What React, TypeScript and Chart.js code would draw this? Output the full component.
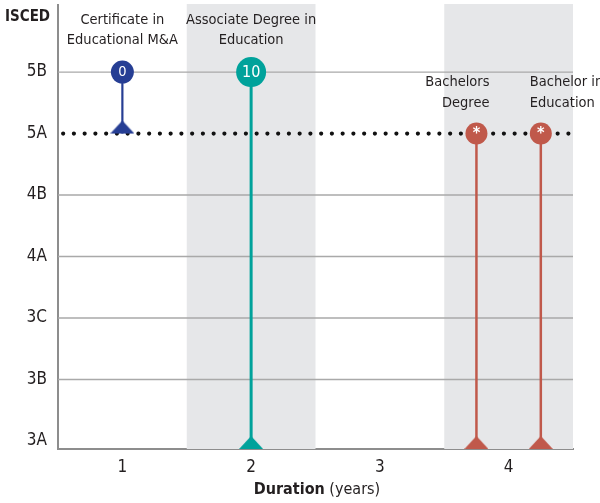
import React, { useEffect, useRef } from "react";
import { Chart, registerables } from "chart.js";

Chart.register(...registerables);

// ---- data ----
const levels = ["3A", "3B", "3C", "4A", "4B", "5A", "5B"];
const durationTicks = [1, 2, 3, 4];
const programmeLines = [
  ["Certificate in", "Educational M&A"],
  ["Associate Degree in", "Education"],
  ["Bachelors", "Degree"],
  ["Bachelor in", "Education"],
];
const durations = [1, 2, 3.75, 4.25];
const levelFrom = ["5A", "3A", "3A", "3A"];
const levelTo = ["5B", "5B", "5A", "5A"];
const markerTexts = ["0", "10", "*", "*"];
const shadedYears = [2, 4];
const dottedLevel = "5A";

// ---- styles ----
const FONT = "'DejaVu Sans Condensed', 'Liberation Sans Narrow', sans-serif";
const TEXT = "#231f20";
const colors = ["#263e94", "#00a29b", "#c0594b", "#c0594b"];
const circleRadius = [11.5, 15, 11, 11];
const stemWidth = [2.2, 3, 2.5, 2.5];
const labelAlign: CanvasTextAlign[] = ["center", "center", "right", "left"];
const labelDx = [0, 0, 13, -11];
const labelTopOffset = [-52, -52, -51, -51];
const Y_MIN = -0.13;
const Y_MAX = 7.09;

function levelValue(l: string, bottom: boolean) {
  const i = levels.indexOf(l);
  return bottom && i === 0 ? Y_MIN : i;
}

function makeTriangle(color: string) {
  const c = document.createElement("canvas");
  const w = 24;
  const h = 13;
  c.width = w;
  c.height = h * 2;
  const ctx = c.getContext("2d")!;
  ctx.fillStyle = color;
  ctx.beginPath();
  ctx.moveTo(w / 2, 0);
  ctx.lineTo(w, h);
  ctx.lineTo(0, h);
  ctx.closePath();
  ctx.fill();
  return c;
}

export default function App() {
  const ref = useRef<HTMLCanvasElement>(null);
  useEffect(() => {
    if (!ref.current) return;
    const datasets: any[] = [];
    // dotted level line
    datasets.push({
      type: "line",
      data: [
        { x: 0.54, y: levels.indexOf(dottedLevel) },
        { x: 4.47, y: levels.indexOf(dottedLevel) },
      ],
      borderColor: "#111",
      borderWidth: 4.2,
      borderDash: [0, 10.75],
      borderCapStyle: "round",
      pointRadius: 0,
      order: 5,
    });
    durations.forEach((d, i) => {
      const y0 = levelValue(levelFrom[i], true);
      const y1 = levelValue(levelTo[i], false);
      datasets.push({
        type: "line",
        data: [
          { x: d, y: y0 },
          { x: d, y: y1 },
        ],
        borderColor: colors[i],
        borderWidth: stemWidth[i],
        pointRadius: 0,
        clip: false,
        order: 3,
      });
      datasets.push({
        type: "scatter",
        data: [{ x: d, y: y0 }],
        pointStyle: makeTriangle(colors[i]),
        clip: false,
        order: 2,
      });
      datasets.push({
        type: "scatter",
        data: [{ x: d, y: y1 }],
        pointStyle: "circle",
        pointRadius: circleRadius[i],
        backgroundColor: colors[i],
        borderWidth: 0,
        clip: false,
        order: 1,
        marker: i,
      });
    });

    const overlay = {
      id: "overlay",
      beforeDatasetsDraw(chart: any) {
        const { ctx, chartArea, scales } = chart;
        ctx.save();
        ctx.fillStyle = "#e6e7e9";
        shadedYears.forEach((yr) => {
          const a = scales.x.getPixelForValue(yr - 0.5);
          const b = scales.x.getPixelForValue(yr + 0.5);
          ctx.fillRect(a, chartArea.top - 1, b - a, chartArea.bottom - chartArea.top + 1);
        });
        // gridlines
        ctx.strokeStyle = "#a9a9a9";
        ctx.lineWidth = 1.3;
        levels.forEach((l, i) => {
          if (i === 0 || l === dottedLevel) return;
          const y = scales.y.getPixelForValue(i);
          ctx.beginPath();
          ctx.moveTo(chartArea.left, y);
          ctx.lineTo(chartArea.right, y);
          ctx.stroke();
        });
        ctx.restore();
      },
      afterDatasetsDraw(chart: any) {
        const { ctx, scales } = chart;
        ctx.save();
        chart.data.datasets.forEach((ds: any, di: number) => {
          if (ds.marker === undefined) return;
          const i = ds.marker;
          const el = chart.getDatasetMeta(di).data[0];
          ctx.fillStyle = "#fff";
          ctx.textAlign = "center";
          ctx.textBaseline = "middle";
          const t = markerTexts[i];
          if (t === "*") {
            ctx.font = `bold 16px ${FONT}`;
            ctx.fillText(t, el.x, el.y + 0.5);
          } else {
            ctx.font = `${i === 1 ? 16 : 14.5}px ${FONT}`;
            ctx.fillText(t, el.x, el.y + 0.5);
          }
          // label
          ctx.fillStyle = TEXT;
          ctx.font = `14.5px ${FONT}`;
          ctx.textAlign = labelAlign[i];
          ctx.textBaseline = "middle";
          const x = scales.x.getPixelForValue(durations[i]) + labelDx[i];
          const yTop = el.y + labelTopOffset[i];
          programmeLines[i].forEach((line, k) => {
            ctx.fillText(line, x, yTop + k * 20.5);
          });
        });
        // titles
        ctx.fillStyle = TEXT;
        ctx.textBaseline = "middle";
        ctx.textAlign = "left";
        ctx.font = `bold 15px ${FONT}`;
        ctx.fillText("ISCED", 5, 17);
        const bold = "Duration";
        const rest = " (years)";
        ctx.font = `bold 16px ${FONT}`;
        const wb = ctx.measureText(bold).width;
        ctx.font = `16px ${FONT}`;
        const wr = ctx.measureText(rest).width;
        const cx = 317;
        const sx = cx - (wb + wr) / 2;
        ctx.font = `bold 16px ${FONT}`;
        ctx.fillText(bold, sx, 490);
        ctx.font = `16px ${FONT}`;
        ctx.fillText(rest, sx + wb, 490);
        ctx.restore();
      },
    };

    const chart = new Chart(ref.current, {
      type: "scatter",
      data: { datasets },
      options: {
        animation: false,
        responsive: false,
        maintainAspectRatio: false,
        devicePixelRatio: 1,
        layout: { autoPadding: false, padding: { top: 5, right: 27, left: 0, bottom: 0 } },
        plugins: { legend: { display: false }, tooltip: { enabled: false } },
        scales: {
          x: {
            type: "linear",
            min: 0.5,
            max: 4.5,
            afterBuildTicks: (s: any) => {
              s.ticks = durationTicks.map((v) => ({ value: v }));
            },
            afterFit: (s: any) => {
              s.height = 54;
              s.paddingLeft = 0;
              s.paddingRight = 0;
            },
            grid: { display: false, drawTicks: false },
            border: { color: "#8d8d8d", width: 2 },
            ticks: {
              padding: 8,
              color: TEXT,
              font: { family: FONT, size: 17 },
              callback: (v: any) => String(v),
            },
          },
          y: {
            type: "linear",
            min: Y_MIN,
            max: Y_MAX,
            afterBuildTicks: (s: any) => {
              s.ticks = levels.map((_, i) => ({ value: i }));
            },
            afterFit: (s: any) => {
              s.width = 58;
              s.paddingTop = 0;
              s.paddingBottom = 0;
            },
            grid: { display: false, drawTicks: false },
            border: { color: "#8d8d8d", width: 2 },
            ticks: {
              padding: 11,
              color: TEXT,
              font: { family: FONT, size: 17 },
              callback: (v: any) => levels[v as number],
            },
          },
        },
      },
      plugins: [overlay],
    });
    return () => chart.destroy();
  }, []);

  return (
    <div style={{ position: "absolute", left: 0, top: 0, width: 600, height: 503, background: "#fff" }}>
      <canvas ref={ref} width={600} height={503} style={{ width: 600, height: 503, display: "block" }} />
    </div>
  );
}
